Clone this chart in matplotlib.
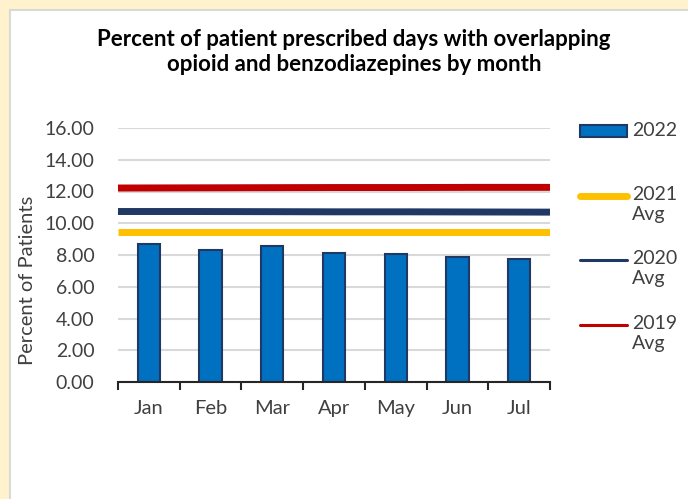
#!/usr/bin/env python3
import matplotlib
matplotlib.use('Agg')
import matplotlib.pyplot as plt
from matplotlib.patches import Rectangle
from matplotlib.lines import Line2D
import numpy as np

months = ['Jan', 'Feb', 'Mar', 'Apr', 'May', 'Jun', 'Jul']
pct_2022 = [8.70, 8.30, 8.55, 8.15, 8.05, 7.90, 7.75]
avg_2021 = [9.48, 9.48, 9.48, 9.48, 9.48, 9.48, 9.48]
avg_2020 = [10.74, 10.74, 10.73, 10.72, 10.72, 10.71, 10.70]
avg_2019 = [12.22, 12.23, 12.24, 12.25, 12.25, 12.26, 12.26]

BAR_FILL = '#0070C0'
BAR_EDGE = '#1F3864'
YELLOW = '#FFC000'
NAVY = '#1F3864'
RED = '#C00000'
TEXT = '#404040'

plt.rcParams['font.family'] = ['Lato', 'DejaVu Sans']

fig = plt.figure(figsize=(6.88, 4.99), dpi=100)
fig.patch.set_facecolor('#FFF2CC')
# white panel with a grey edge, the yellow shows on top and left
fig.add_artist(Rectangle((10 / 688, -0.01), 1.0, 1 - 10 / 499 + 0.01,
                         transform=fig.transFigure, facecolor='white',
                         edgecolor='#D9D9D9', linewidth=1.5, zorder=0))

ax = fig.add_axes([118 / 688, 1 - 382 / 499, 432 / 688, 254 / 499])
ax.set_facecolor('none')

x = np.arange(len(months))
ax.bar(x, pct_2022, width=0.36, color=BAR_FILL, edgecolor=BAR_EDGE,
       linewidth=1.5, zorder=3)

# average lines run across the whole plot area
for vals, col, lw in [(avg_2021, YELLOW, 5), (avg_2020, NAVY, 5), (avg_2019, RED, 5)]:
    ax.plot(np.linspace(-0.5, len(months) - 0.5, len(vals)), vals,
            color=col, linewidth=lw, solid_capstyle='butt', zorder=4)

ax.set_xlim(-0.5, len(months) - 0.5)
ax.set_ylim(0, 16)
ax.set_yticks(np.arange(0, 17, 2))
ax.set_yticklabels(['%.2f' % v for v in np.arange(0, 17, 2)])
ax.yaxis.grid(True, color='#D9D9D9', linewidth=1.5, zorder=0)
ax.tick_params(axis='y', length=0, pad=17, labelsize=14, labelcolor=TEXT)

# category boundaries get the tick marks, month names sit in between
ax.set_xticks(np.arange(-0.5, len(months), 1.0))
ax.set_xticklabels([])
ax.tick_params(axis='x', which='major', direction='out', length=6,
               width=1.5, color='#262626')
ax.set_xticks(x, minor=True)
ax.set_xticklabels(months, minor=True)
ax.tick_params(axis='x', which='minor', length=0, pad=13, labelsize=14.5,
               labelcolor=TEXT)

for s in ['top', 'right', 'left']:
    ax.spines[s].set_visible(False)
ax.spines['bottom'].set_color('#262626')
ax.spines['bottom'].set_linewidth(1.5)
ax.spines['bottom'].set_zorder(5)

ax.set_ylabel('Percent of Patients', fontsize=14.5, color=TEXT)
ax.yaxis.set_label_coords(-0.19, 0.4)

fig.text(354 / 688, 1 - 52 / 499,
         'Percent of patient prescribed days with overlapping\n'
         'opioid and benzodiazepines by month',
         ha='center', va='center', fontsize=16, fontweight='bold',
         color='black', linespacing=1.25)

# legend, drawn by hand to keep the two line labels
x0, x1, tx = 580 / 688, 627 / 688, 632 / 688
fig.add_artist(Rectangle((x0, 1 - 137 / 499), x1 - x0, 12 / 499,
                         transform=fig.transFigure, facecolor=BAR_FILL,
                         edgecolor=BAR_EDGE, linewidth=1.5))
fig.text(tx, 1 - 131 / 499, '2022', ha='left', va='center',
         fontsize=14, color=TEXT)
entries = [('2021\nAvg', YELLOW, 5, 196), ('2020\nAvg', NAVY, 2.2, 260),
           ('2019\nAvg', RED, 2.2, 325)]
for label, col, lw, ypx in entries:
    fig.add_artist(Line2D([x0, x1], [1 - ypx / 499] * 2, color=col,
                          linewidth=lw, solid_capstyle='round',
                          transform=fig.transFigure))
    fig.text(tx, 1 - (ypx - 10) / 499, label, ha='left', va='top',
             fontsize=14, color=TEXT, linespacing=1.2)

fig.savefig('out.png', dpi=100, facecolor=fig.get_facecolor())
